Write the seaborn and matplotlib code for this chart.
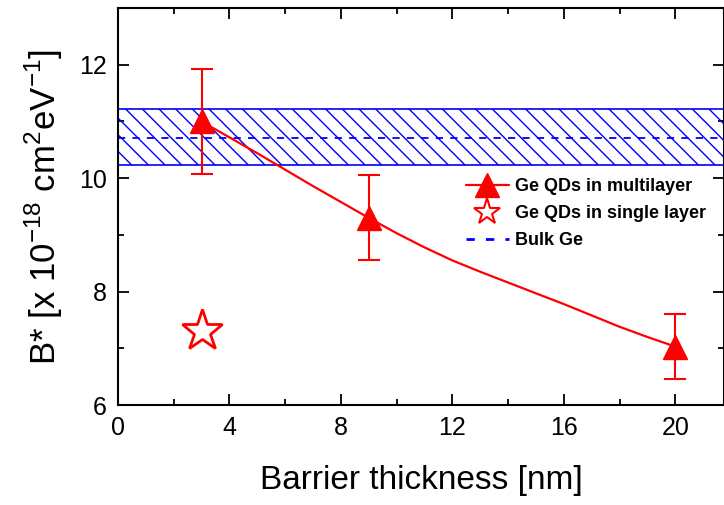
import matplotlib
matplotlib.use("Agg")
import matplotlib.pyplot as plt
from matplotlib.lines import Line2D
from matplotlib.ticker import MultipleLocator
import pandas as pd
import seaborn as sns

# measured points (multilayer)
thickness = [3, 9, 20]
bstar = [11.0, 9.3, 7.03]
err_low = [10.08, 8.55, 6.45]
err_high = [11.92, 10.05, 7.6]
# single layer
single_x = [3]
single_y = [7.3]
# guide curve
curve_x = [3, 4, 5, 6, 7, 8, 9, 10, 11, 12, 13, 14, 15, 16, 17, 18, 19, 20]
curve_y = [11.0, 10.72, 10.44, 10.15, 9.86, 9.58, 9.3, 9.03, 8.78, 8.55, 8.35, 8.16,
           7.97, 7.78, 7.58, 7.38, 7.2, 7.03]
# bulk Ge band
bulk_mean = 10.7
bulk_low = 10.24
bulk_high = 11.22

sns.set_theme(style="ticks")
plt.rcParams['font.family'] = ['Liberation Sans', 'DejaVu Sans']
plt.rcParams['hatch.color'] = 'blue'
plt.rcParams['hatch.linewidth'] = 1.0
for k in ['text.color', 'axes.labelcolor', 'xtick.color', 'ytick.color', 'axes.edgecolor']:
    plt.rcParams[k] = 'black'

fig = plt.figure(figsize=(7.24, 5.05), dpi=100)
ax = fig.add_axes([0.163, 0.198, 0.837, 0.786])

xl = (0, 21.75)
ax.fill_between(xl, [bulk_low] * 2, [bulk_high] * 2, facecolor='none',
                edgecolor='blue', hatch='\\\\', linewidth=1.2, zorder=1)
ax.axhline(bulk_mean, color='blue', ls=(0, (4, 4)), lw=1.3, zorder=2)

d = pd.DataFrame({'x': curve_x, 'y': curve_y})
sns.lineplot(data=d, x='x', y='y', color='red', lw=1.6, ax=ax, zorder=3)

yerr = [[b - l for b, l in zip(bstar, err_low)], [h - b for b, h in zip(bstar, err_high)]]
ax.errorbar(thickness, bstar, yerr=yerr, fmt='none', ecolor='red', elinewidth=1.5,
            capsize=8, capthick=1.5, zorder=4)
ax.plot(thickness, bstar, ls='none', marker='^', ms=17, color='red', zorder=5)
ax.plot(single_x, single_y, ls='none', marker='*', ms=31, mfc='white', mec='red',
        mew=2.0, zorder=5)

ax.set_xlim(*xl)
ax.set_ylim(6, 13)
ax.xaxis.set_major_locator(MultipleLocator(4))
ax.xaxis.set_minor_locator(MultipleLocator(2))
ax.yaxis.set_major_locator(MultipleLocator(2))
ax.yaxis.set_minor_locator(MultipleLocator(1))
ax.tick_params(which='both', direction='in', top=True, right=True, width=1.3,
               color='black', labelsize=18, pad=8)
ax.tick_params(which='major', length=8)
ax.tick_params(which='minor', length=4)
for s in ax.spines.values():
    s.set_linewidth(1.5)
    s.set_color('black')

ax.set_xlabel('Barrier thickness [nm]', fontsize=24, labelpad=18)
ax.set_ylabel(r'B* [x 10$^{\mathregular{-18}}$ cm$^{\mathregular{2}}$eV$^{\mathregular{-1}}$]',
              fontsize=25, labelpad=10)

handles = [
    Line2D([], [], color='red', lw=1.6, marker='^', ms=17),
    Line2D([], [], color='red', ls='none', marker='*', ms=20, mfc='white', mew=1.5),
    Line2D([], [], color='blue', ls=(0, (3, 4)), lw=2),
]
labels = ['Ge QDs in multilayer', 'Ge QDs in single layer', 'Bulk Ge']
ax.legend(handles, labels, loc='upper left', bbox_to_anchor=(0.562, 0.59), frameon=False,
          borderaxespad=0, prop={'weight': 'bold', 'size': 13}, handlelength=2.4,
          labelspacing=0.55, handletextpad=0.35)

fig.savefig('out.png', dpi=100)
